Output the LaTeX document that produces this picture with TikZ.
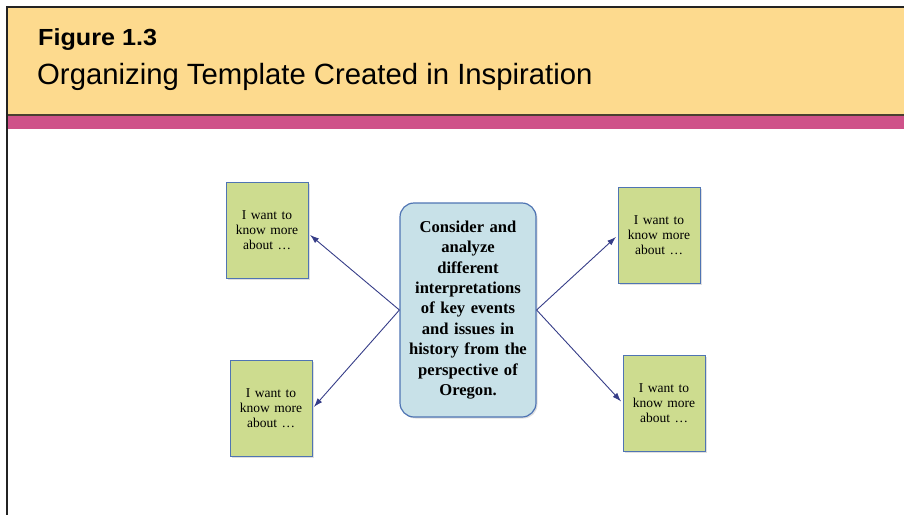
\documentclass[tikz,border=0pt]{standalone}
\usepackage{fontspec}
\usepackage{graphicx}
\setmainfont{Liberation Serif}
\newfontfamily\headfont{Liberation Sans}
\usetikzlibrary{arrows.meta,shadows}

\definecolor{headyellow}{HTML}{FDDA8E}
\definecolor{bandpink}{HTML}{CF5189}
\definecolor{rulebrown}{HTML}{4A3F30}
\definecolor{framegray}{HTML}{232323}
\definecolor{notegreen}{HTML}{CDDC8F}
\definecolor{noteblue}{HTML}{4F74B3}
\definecolor{centerfill}{HTML}{C8E1E8}
\definecolor{arrowblue}{HTML}{363D88}

\tikzset{
  notebox/.style={draw=noteblue, line width=1pt, fill=notegreen,
    minimum width=82pt, minimum height=96pt, inner sep=2pt,
    align=center, text width=76pt,
    font=\fontsize{13.5}{15}\selectfont,
    drop shadow={shadow xshift=1.5pt, shadow yshift=-1.5pt, opacity=0.25}},
  centerbox/.style={draw=noteblue, line width=1.2pt, fill=centerfill,
    rounded corners=14pt, minimum width=136pt, minimum height=214pt,
    align=center, text width=130pt, inner sep=2pt,
    font=\bfseries\fontsize{16.6}{20.4}\selectfont,
    drop shadow={shadow xshift=1.5pt, shadow yshift=-1.5pt, opacity=0.25}},
  link/.style={draw=arrowblue, line width=0.9pt,
    -{Latex[length=9pt,width=6pt]}, shorten >=2pt}
}

\begin{document}
\begin{tikzpicture}[x=1pt,y=-1pt]
  \useasboundingbox (0,0) rectangle (904,515);

  % header panel
  \fill[headyellow] (7,7) rectangle (904,115);
  \fill[bandpink] (7,115.5) rectangle (904,129);
  \draw[rulebrown, line width=1.6pt] (7,115) -- (904,115);
  \draw[framegray, line width=1.6pt] (904,7) -- (7,7) -- (7,515);

  \node[anchor=base west, inner sep=0pt,
        font=\headfont\bfseries\fontsize{23.3}{24}\selectfont] (fig) at (38,45.7) {\scalebox{1.08}[1]{Figure 1.3}};
  \node[anchor=base west, inner sep=0pt,
        font=\headfont\fontsize{29.3}{30}\selectfont] (title) at (37,84) {Organizing Template Created in Inspiration};

  % central idea
  \node[centerbox] (c) at (468,310) {Consider and\\ analyze\\ different\\ interpretations\\ of key events\\ and issues in\\ history from the\\ perspective of\\ Oregon.};

  % surrounding notes
  \node[notebox] (tl) at (267,230) {I want to\\ know more\\ about \dots};
  \node[notebox] (bl) at (271,408.5) {I want to\\ know more\\ about \dots};
  \node[notebox] (tr) at (659,235.5) {I want to\\ know more\\ about \dots};
  \node[notebox] (br) at (664,403) {I want to\\ know more\\ about \dots};

  % links
  \draw[link] (c.west) -- (tl.-5);
  \draw[link] (c.west) -- (bl.east);
  \draw[link] (c.east) -- (tr.west);
  \draw[link] (c.east) -- (br.west);
\end{tikzpicture}
\end{document}
